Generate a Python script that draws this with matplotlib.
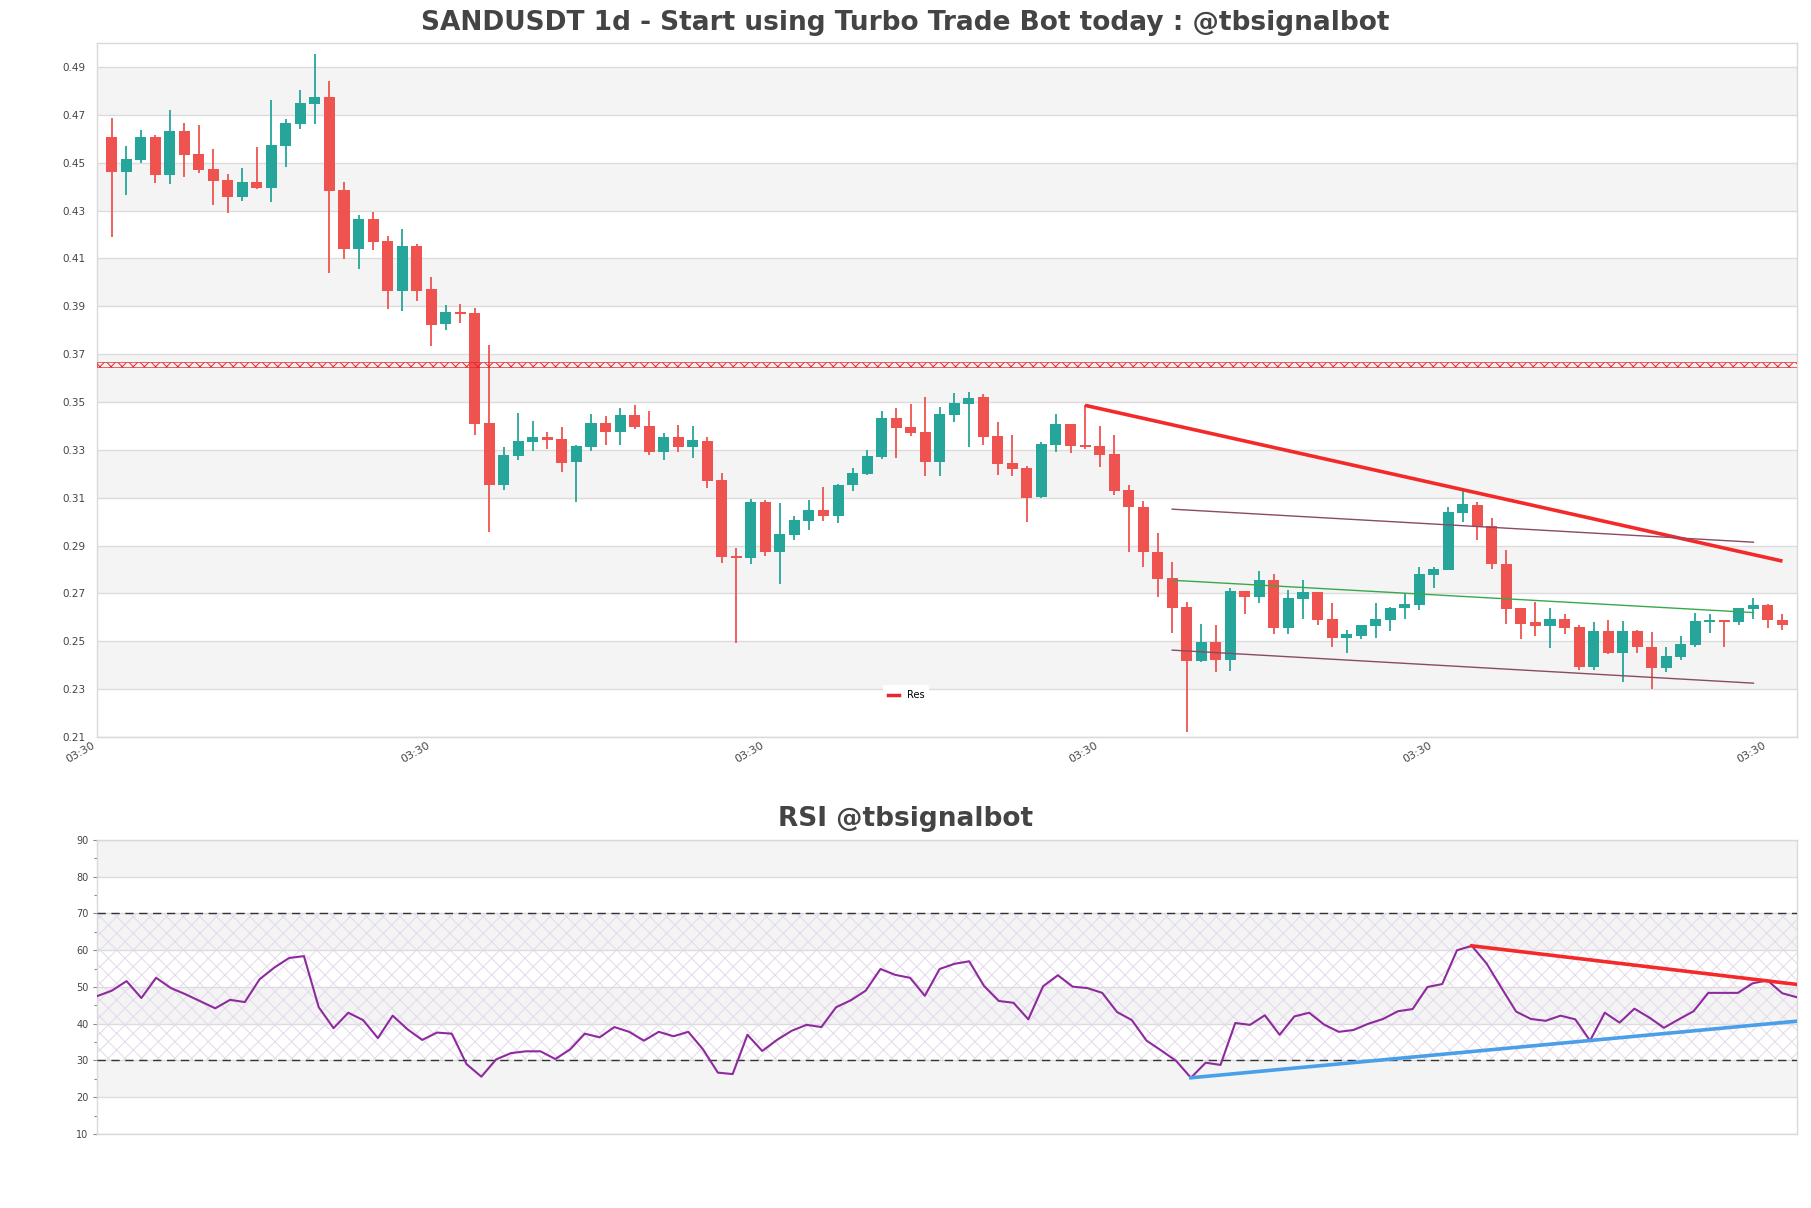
import matplotlib
matplotlib.use("Agg")
import matplotlib.pyplot as plt
from matplotlib.lines import Line2D
from matplotlib.ticker import MultipleLocator

# daily candles
opens = [0.4607, 0.4462, 0.4512, 0.4607, 0.4449, 0.4632, 0.4536, 0.4473, 0.4427, 0.4357,
         0.4418, 0.4395, 0.4571, 0.4663, 0.4747, 0.4774, 0.4385, 0.4138, 0.4264, 0.4171,
         0.3963, 0.4150, 0.3970, 0.3825, 0.3878, 0.3870, 0.3412, 0.3155, 0.3276, 0.3334,
         0.3352, 0.3345, 0.3251, 0.3313, 0.3412, 0.3376, 0.3445, 0.3399, 0.3292, 0.3354,
         0.3313, 0.3337, 0.3174, 0.2857, 0.2846, 0.3082, 0.2875, 0.2946, 0.3004, 0.3049,
         0.3025, 0.3153, 0.3201, 0.3272, 0.3433, 0.3395, 0.3375, 0.3251, 0.3446, 0.3492,
         0.3521, 0.3358, 0.3246, 0.3226, 0.3104, 0.3321, 0.3408, 0.3320, 0.3316, 0.3283,
         0.3133, 0.3063, 0.2875, 0.2766, 0.2645, 0.2416, 0.2499, 0.2420, 0.2712, 0.2683,
         0.2754, 0.2554, 0.2675, 0.2708, 0.2595, 0.2512, 0.2524, 0.2562, 0.2591, 0.2637,
         0.2650, 0.2779, 0.2796, 0.3038, 0.3071, 0.2983, 0.2825, 0.2637, 0.2579, 0.2562,
         0.2595, 0.2558, 0.2391, 0.2545, 0.2453, 0.2541, 0.2478, 0.2387, 0.2433, 0.2483,
         0.2579, 0.2587, 0.2579, 0.2633, 0.2650, 0.2587]
highs = [0.4686, 0.4569, 0.4636, 0.4614, 0.4720, 0.4666, 0.4657, 0.4557, 0.4452, 0.4477,
         0.4567, 0.4762, 0.4682, 0.4804, 0.4954, 0.4841, 0.4418, 0.4280, 0.4293, 0.4192,
         0.4222, 0.4159, 0.4022, 0.3905, 0.3908, 0.3891, 0.3738, 0.3311, 0.3454, 0.3420,
         0.3375, 0.3395, 0.3320, 0.3450, 0.3441, 0.3475, 0.3487, 0.3462, 0.3370, 0.3404,
         0.3400, 0.3354, 0.3203, 0.2890, 0.3095, 0.3091, 0.3078, 0.3024, 0.3091, 0.3145,
         0.3157, 0.3224, 0.3299, 0.3462, 0.3475, 0.3491, 0.3521, 0.3479, 0.3537, 0.3541,
         0.3533, 0.3416, 0.3362, 0.3234, 0.3333, 0.3450, 0.3408, 0.3486, 0.3400, 0.3362,
         0.3153, 0.3087, 0.2954, 0.2833, 0.2666, 0.2574, 0.2566, 0.2721, 0.2712, 0.2792,
         0.2783, 0.2716, 0.2754, 0.2708, 0.2662, 0.2549, 0.2566, 0.2658, 0.2645, 0.2700,
         0.2812, 0.2812, 0.3063, 0.3134, 0.3080, 0.3017, 0.2883, 0.2641, 0.2666, 0.2641,
         0.2616, 0.2566, 0.2579, 0.2587, 0.2583, 0.2549, 0.2537, 0.2474, 0.2524, 0.2620,
         0.2612, 0.2587, 0.2641, 0.2679, 0.2654, 0.2612]
lows = [0.4190, 0.4365, 0.4499, 0.4416, 0.4412, 0.4441, 0.4458, 0.4324, 0.4290, 0.4340,
        0.4391, 0.4335, 0.4483, 0.4642, 0.4663, 0.4039, 0.4096, 0.4054, 0.4135, 0.3888,
        0.3880, 0.3922, 0.3733, 0.3800, 0.3830, 0.3361, 0.2958, 0.3134, 0.3259, 0.3297,
        0.3305, 0.3209, 0.3080, 0.3297, 0.3322, 0.3322, 0.3387, 0.3280, 0.3259, 0.3292,
        0.3267, 0.3142, 0.2829, 0.2492, 0.2821, 0.2858, 0.2741, 0.2925, 0.2967, 0.3004,
        0.2996, 0.3130, 0.3196, 0.3263, 0.3267, 0.3358, 0.3192, 0.3192, 0.3418, 0.3313,
        0.3322, 0.3196, 0.3192, 0.3000, 0.3100, 0.3292, 0.3288, 0.3305, 0.3230, 0.3113,
        0.2875, 0.2812, 0.2683, 0.2533, 0.2119, 0.2412, 0.2370, 0.2374, 0.2616, 0.2658,
        0.2529, 0.2529, 0.2595, 0.2566, 0.2478, 0.2449, 0.2508, 0.2512, 0.2545, 0.2595,
        0.2629, 0.2721, 0.2796, 0.3000, 0.2925, 0.2804, 0.2574, 0.2508, 0.2524, 0.2470,
        0.2529, 0.2382, 0.2378, 0.2445, 0.2328, 0.2449, 0.2299, 0.2370, 0.2420, 0.2478,
        0.2533, 0.2474, 0.2570, 0.2595, 0.2554, 0.2549]
closes = [0.4462, 0.4515, 0.4607, 0.4449, 0.4632, 0.4533, 0.4470, 0.4424, 0.4357, 0.4418,
          0.4395, 0.4573, 0.4666, 0.4749, 0.4774, 0.4381, 0.4138, 0.4264, 0.4169, 0.3963,
          0.4150, 0.3963, 0.3821, 0.3878, 0.3867, 0.3407, 0.3155, 0.3279, 0.3337, 0.3352,
          0.3343, 0.3247, 0.3316, 0.3412, 0.3376, 0.3445, 0.3395, 0.3292, 0.3354, 0.3313,
          0.3341, 0.3171, 0.2854, 0.2846, 0.3082, 0.2875, 0.2949, 0.3007, 0.3049, 0.3025,
          0.3153, 0.3203, 0.3274, 0.3433, 0.3393, 0.3370, 0.3251, 0.3450, 0.3496, 0.3516,
          0.3355, 0.3242, 0.3221, 0.3100, 0.3324, 0.3408, 0.3317, 0.3311, 0.3280, 0.3130,
          0.3063, 0.2875, 0.2762, 0.2641, 0.2416, 0.2499, 0.2420, 0.2712, 0.2683, 0.2754,
          0.2554, 0.2679, 0.2708, 0.2591, 0.2512, 0.2529, 0.2566, 0.2595, 0.2641, 0.2654,
          0.2783, 0.2800, 0.3042, 0.3075, 0.2979, 0.2821, 0.2633, 0.2574, 0.2562, 0.2595,
          0.2554, 0.2391, 0.2545, 0.2453, 0.2541, 0.2474, 0.2387, 0.2437, 0.2487, 0.2583,
          0.2587, 0.2579, 0.2637, 0.2650, 0.2587, 0.2570]

rsi = [47.5, 49.0, 51.6, 47.0, 52.5, 49.7, 48.0, 46.1, 44.2, 46.5,
       45.9, 52.1, 55.3, 57.9, 58.4, 44.5, 38.8, 43.0, 41.0, 36.1,
       42.2, 38.5, 35.6, 37.6, 37.3, 29.0, 25.6, 30.3, 32.0, 32.5,
       32.5, 30.4, 33.0, 37.3, 36.3, 39.1, 37.8, 35.4, 37.8, 36.6,
       37.8, 33.0, 26.7, 26.3, 37.0, 32.6, 35.6, 38.1, 39.7, 39.1,
       44.5, 46.4, 49.0, 54.9, 53.3, 52.5, 47.6, 54.9, 56.3, 57.0,
       50.3, 46.2, 45.7, 41.2, 50.2, 53.2, 50.1, 49.7, 48.4, 43.2,
       41.0, 35.4, 32.7, 29.9, 25.3, 29.4, 28.8, 40.2, 39.7, 42.3,
       37.0, 42.0, 43.0, 39.8, 37.8, 38.3, 40.0, 41.3, 43.4, 44.0,
       50.0, 50.8, 60.0, 61.2, 56.4, 49.8, 43.3, 41.3, 40.8, 42.2,
       41.2, 35.4, 43.0, 40.3, 44.1, 41.7, 38.9, 41.2, 43.4, 48.4,
       48.4, 48.4, 51.0, 51.8, 48.3, 47.2]

res_level = 0.3656
# trend lines (candle index, price)
res_x = [67, 115]
res_y = [0.3486, 0.2835]
chan_x = [73, 113]
chan_upper = [0.3052, 0.2914]
chan_mid = [0.2755, 0.2620]
chan_lower = [0.2463, 0.2325]
# rsi trend lines
rsi_res_x = [93, 115]
rsi_res_y = [61.2, 50.7]
rsi_sup_x = [74, 115]
rsi_sup_y = [25.3, 40.7]

tick_pos = [-1, 22, 45, 68, 91, 114]
tick_labels = ["03:30"] * len(tick_pos)

UP = "#26a69a"
DOWN = "#ef5350"
TXT = "#444444"

plt.rcParams["hatch.linewidth"] = 0.7


def draw_bands(ax, edges):
    for k in range(len(edges) - 1):
        if k % 2 == 0:
            ax.axhspan(edges[k], edges[k + 1], color="#f4f4f4", lw=0, zorder=0)


def style_spines(ax):
    for s in ax.spines.values():
        s.set_color("#d9d9d9")
        s.set_linewidth(1)


fig = plt.figure(figsize=(18.11, 12.08), dpi=100)

# ---- price panel ----
ax = fig.add_axes([0.05356, 0.38990, 0.93871, 0.57450])
yt = [0.21 + 0.02 * k for k in range(15)]
draw_bands(ax, yt[1:])
ax.set_ylim(0.21, 0.50)
ax.set_xlim(-1, 116)
ax.set_yticks(yt)
ax.set_yticklabels(["%.2f" % v for v in yt])
for v in yt:
    ax.axhline(v, color="#dcdcdc", lw=1, zorder=1)

for i in range(len(opens)):
    o, h, l, c = opens[i], highs[i], lows[i], closes[i]
    col = UP if c >= o else DOWN
    ax.vlines(i, l, h, color=col, lw=1.3, zorder=3)
    lo_b, hi_b = min(o, c), max(o, c)
    if hi_b - lo_b < 0.0008:
        mid = (hi_b + lo_b) / 2
        lo_b, hi_b = mid - 0.0004, mid + 0.0004
    ax.bar(i, hi_b - lo_b, bottom=lo_b, width=0.76, color=col, lw=0, zorder=4)

ax.axhspan(res_level - 0.0009, res_level + 0.0009, facecolor="none", edgecolor="#e8262b",
           hatch="xxx", lw=0.5, zorder=5)
ax.plot(res_x, res_y, color="#f22a2a", lw=2.6, zorder=6, solid_capstyle="butt")
ax.plot(chan_x, chan_upper, color="#8a4a68", lw=1.0, zorder=6)
ax.plot(chan_x, chan_lower, color="#8a4a68", lw=1.0, zorder=6)
ax.plot(chan_x, chan_mid, color="#3aa84a", lw=1.0, zorder=6)

ax.set_xticks(tick_pos)
ax.set_xticklabels(tick_labels, rotation=30, ha="right", fontsize=8, color=TXT)
ax.tick_params(axis="x", length=0, pad=2)
ax.tick_params(axis="y", length=0, pad=8, labelsize=7.5, labelcolor=TXT)
style_spines(ax)

leg = ax.legend(handles=[Line2D([], [], color="#e8262b", lw=2.5)], labels=["Res"],
                loc="center", bbox_to_anchor=(0.476, 0.06), fontsize=7, frameon=True,
                handlelength=1.1, handletextpad=0.8, borderpad=0.5)
leg.get_frame().set_facecolor("white")
leg.get_frame().set_edgecolor("none")
leg.get_frame().set_alpha(1)

fig.text(0.5, 0.981, "SANDUSDT 1d - Start using Turbo Trade Bot today : @tbsignalbot",
         ha="center", va="center", fontsize=19, fontweight="bold", color=TXT)

# ---- RSI panel ----
ax2 = fig.add_axes([0.05356, 0.06126, 0.93871, 0.24338])
ax2.set_ylim(10, 90)
ax2.set_xlim(0, len(rsi) - 1)
draw_bands(ax2, [90, 80, 70, 60, 50, 40, 30, 20, 10])
for v in range(10, 91, 10):
    ax2.axhline(v, color="#dcdcdc", lw=1, zorder=1)
ax2.axhspan(30, 70, facecolor="none", edgecolor="#e4d9ec", hatch="xx", lw=0, zorder=1.5)
ax2.axhline(70, color="#333333", lw=1, ls=(0, (6, 4)), zorder=3)
ax2.axhline(30, color="#333333", lw=1, ls=(0, (6, 4)), zorder=3)
ax2.plot(range(len(rsi)), rsi, color="#8e2a9e", lw=1.5, zorder=4)
ax2.plot(rsi_res_x, rsi_res_y, color="#f22a2a", lw=2.6, zorder=5)
ax2.plot(rsi_sup_x, rsi_sup_y, color="#4a9fe8", lw=2.6, zorder=5)

ax2.set_yticks(range(10, 91, 10))
ax2.yaxis.set_minor_locator(MultipleLocator(5))
ax2.tick_params(axis="y", which="major", length=3, width=0.8, color="#888888", pad=3,
                labelsize=7, labelcolor=TXT)
ax2.tick_params(axis="y", which="minor", length=2, width=0.8, color="#888888")
ax2.set_xticks([])
style_spines(ax2)

fig.text(0.5, 0.322, "RSI @tbsignalbot", ha="center", va="center",
         fontsize=19, fontweight="bold", color=TXT)

fig.savefig("out.png", dpi=100)
